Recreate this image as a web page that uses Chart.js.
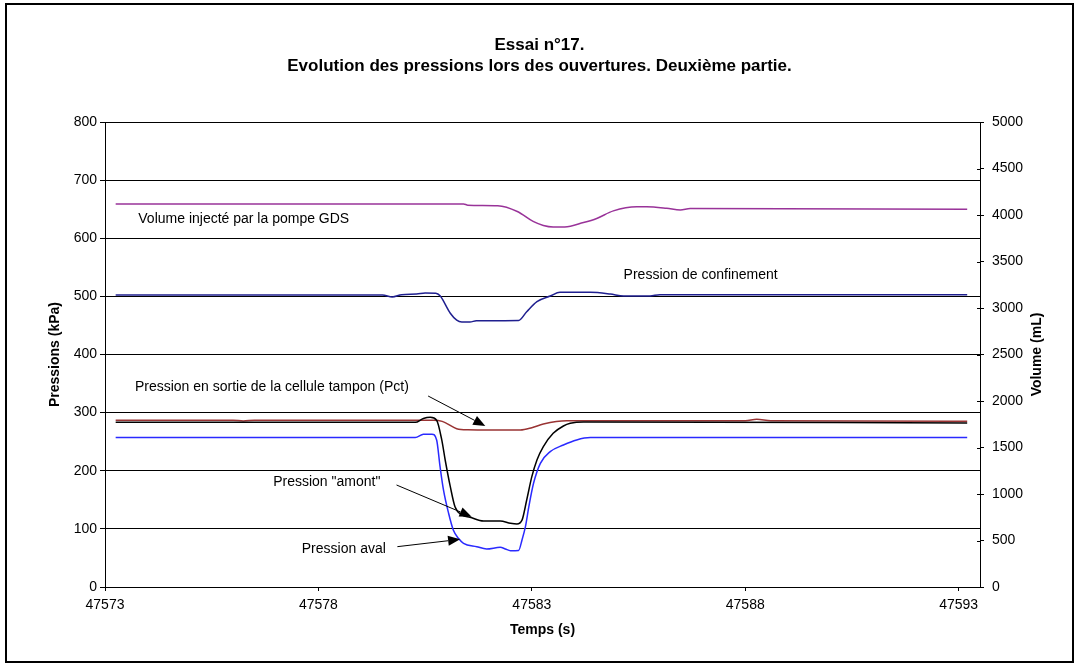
<!DOCTYPE html>
<html>
<head>
<meta charset="utf-8">
<script src="https://cdn.jsdelivr.net/npm/chart.js@4.4.1/dist/chart.umd.min.js"></script>
<style>
  html, body { margin: 0; padding: 0; background: #fff; }
  #wrap { width: 1079px; height: 668px; }
</style>
</head>
<body>
<div id="wrap"><canvas id="mychart"></canvas></div>
<script>
var timeTicks = [47573, 47578, 47583, 47588, 47593];

// Volume injecté (mL, right axis)
var tVolume = [47573.25, 47581.4, 47581.5, 47582.2, 47582.66, 47583.03, 47583.27, 47583.5, 47583.77,
   47584.21, 47584.52, 47584.91, 47585.46, 47585.69, 47586.16, 47586.48, 47586.71, 47593.2];
var volume = [4119, 4119, 4106, 4100, 4038, 3931, 3888, 3872, 3872,
   3919, 3963, 4044, 4088, 4088, 4072, 4054, 4069, 4063];

// Pression de confinement (kPa)
var tConfinement = [47573.25, 47579.5, 47579.73, 47579.95, 47580.3, 47580.5, 47580.75, 47580.85, 47581.09,
   47581.24, 47581.36, 47581.55, 47581.7, 47582.69, 47582.88, 47583.12, 47583.43, 47583.66, 47584.37,
   47584.84, 47585.15, 47585.77, 47586.0, 47593.2];
var confinement = [502.5, 502.5, 499, 503, 504, 505.8, 505.5, 501, 471,
   459, 456, 456, 458, 458.5, 473.7, 491, 500.6, 507, 507,
   504, 500.6, 500.8, 503, 503];

// Pression en sortie de la cellule tampon (Pct)
var tPct = [47573.25, 47576.0, 47576.24, 47576.5, 47580.7, 47580.9, 47581.24, 47581.5, 47582.73,
   47583.0, 47583.27, 47583.82, 47588.0, 47588.27, 47588.6, 47593.2];
var pct = [287, 287, 285.5, 287, 287, 285, 272.4, 270.5, 270,
   274, 280.4, 286, 286, 288.5, 286, 285];

// Pression "amont"
var tAmont = [47573.25, 47580.27, 47580.46, 47580.62, 47580.77, 47580.89, 47580.97, 47581.09, 47581.2,
   47581.36, 47581.55, 47581.87, 47582.26, 47582.5, 47582.65, 47582.77, 47582.88, 47583.0, 47583.12,
   47583.27, 47583.5, 47583.74, 47583.9, 47584.21, 47593.2];
var amont = [283.3, 283.3, 290, 292, 287, 253, 218.5, 172.6, 138,
   124, 120, 113.5, 113.5, 109.6, 108.4, 115, 149.7, 189.8, 218.5,
   241.5, 264.4, 277, 281.6, 284, 282];

// Pression aval
var tAval = [47573.25, 47580.27, 47580.46, 47580.66, 47580.77, 47580.85, 47580.93, 47581.05, 47581.16,
   47581.28, 47581.4, 47581.71, 47581.94, 47582.26, 47582.38, 47582.5, 47582.69, 47582.77, 47582.85,
   47582.93, 47583.04, 47583.2, 47583.43, 47583.74, 47584.05, 47584.37, 47593.2];
var aval = [257, 257, 262.7, 263, 253, 207, 167, 126.8, 98,
   83.8, 75.2, 69.4, 65.4, 68.3, 65.4, 62.5, 63, 80.9, 103.8,
   138.2, 178.4, 212.8, 232.8, 244.3, 253, 257, 257];

// annotations, anchored in data units (time, kPa)
var noteTexts = ["Volume injecté par la pompe GDS", "Pression de confinement",
   "Pression en sortie de la cellule tampon (Pct)", "Pression \"amont\"", "Pression aval"];
var noteAt = [[47573.78, 632.6], [47585.15, 536.8], [47573.70, 344.6], [47576.94, 180.6], [47577.61, 64.9]];
var arrowFrom = [[47580.57, 328.6], [47579.83, 175.5], [47579.85, 69.4]];
var arrowTo = [[47581.91, 277], [47581.59, 121], [47581.32, 82]];

function pts(ts, vs) {
   return ts.map(function (t, i) { return { x: t, y: vs[i] }; });
}

Chart.defaults.color = "#000000";
Chart.defaults.font.family = "'Liberation Sans', Arial, sans-serif";
Chart.defaults.font.size = 14;

var notesPlugin = {
   id: "notes",
   beforeDraw: function (chart) {
      var ctx = chart.ctx;
      ctx.save();
      ctx.strokeStyle = "#000";
      ctx.lineWidth = 2;
      ctx.strokeRect(6, 4, 1067, 658);
      ctx.restore();
   },
   afterDatasetsDraw: function (chart) {
      var ctx = chart.ctx, sx = chart.scales.x, sy = chart.scales.y, s2 = chart.scales.y2;
      ctx.save();
      ctx.fillStyle = "#000";
      ctx.strokeStyle = "#000";
      // right axis ticks cross the axis line
      ctx.lineWidth = 1;
      ctx.beginPath();
      s2.ticks.forEach(function (t) {
         var py = Math.round(s2.getPixelForValue(t.value)) + 0.5;
         ctx.moveTo(s2.left - 3, py);
         ctx.lineTo(s2.left, py);
      });
      ctx.stroke();

      ctx.font = "14px 'Liberation Sans', Arial, sans-serif";
      ctx.textAlign = "left";
      ctx.textBaseline = "middle";
      noteTexts.forEach(function (txt, i) {
         ctx.fillText(txt, sx.getPixelForValue(noteAt[i][0]), sy.getPixelForValue(noteAt[i][1]));
      });
      arrowFrom.forEach(function (a, i) {
         var x0 = sx.getPixelForValue(a[0]), y0 = sy.getPixelForValue(a[1]);
         var x1 = sx.getPixelForValue(arrowTo[i][0]), y1 = sy.getPixelForValue(arrowTo[i][1]);
         var ang = Math.atan2(y1 - y0, x1 - x0);
         var len = 12, half = 5;
         var bx = x1 - len * Math.cos(ang), by = y1 - len * Math.sin(ang);
         ctx.beginPath();
         ctx.moveTo(x0, y0);
         ctx.lineTo(bx, by);
         ctx.stroke();
         ctx.beginPath();
         ctx.moveTo(x1, y1);
         ctx.lineTo(bx + half * Math.sin(ang), by - half * Math.cos(ang));
         ctx.lineTo(bx - half * Math.sin(ang), by + half * Math.cos(ang));
         ctx.closePath();
         ctx.fill();
      });
      // right axis title reads bottom to top, like the left one
      var ca = chart.chartArea;
      ctx.translate(ca.right + 57, (ca.top + ca.bottom) / 2);
      ctx.rotate(-Math.PI / 2);
      ctx.font = "bold 14px 'Liberation Sans', Arial, sans-serif";
      ctx.textAlign = "center";
      ctx.fillText("Volume (mL)", 0, 0);
      ctx.restore();
   }
};

var line = function (label, data, color, axis) {
   return {
      label: label, data: data, yAxisID: axis,
      borderColor: color, backgroundColor: color,
      borderWidth: 1.5, pointRadius: 0, fill: false,
      cubicInterpolationMode: "monotone"
   };
};

var plain = function (v) { return String(v); };

var chart = new Chart(document.getElementById("mychart"), {
   type: "line",
   data: {
      datasets: [
         line("Pression \"amont\"", pts(tAmont, amont), "#000000", "y"),
         line("Pct", pts(tPct, pct), "#993333", "y"),
         line("Pression aval", pts(tAval, aval), "#2a2aff", "y"),
         line("Pression de confinement", pts(tConfinement, confinement), "#1f1f8f", "y"),
         line("Volume injecté", pts(tVolume, volume), "#993399", "y2")
      ]
   },
   options: {
      responsive: true,
      maintainAspectRatio: false,
      animation: false,
      layout: { padding: 0 },
      plugins: {
         legend: { display: false },
         tooltip: { enabled: false },
         title: {
            display: true,
            text: ["Essai n°17.", "Evolution des pressions lors des ouvertures. Deuxième partie."],
            font: { size: 17, weight: "bold", lineHeight: "21px" },
            padding: { top: 35, bottom: 45 }
         }
      },
      scales: {
         x: {
            type: "linear",
            min: 47573, max: 47593.5,
            afterBuildTicks: function (s) { s.ticks = timeTicks.map(function (v) { return { value: v }; }); },
            afterFit: function (s) { s.height = 81; },
            ticks: { padding: 6, maxRotation: 0, callback: plain },
            grid: { drawOnChartArea: false, tickLength: 4, color: "#000" },
            border: { color: "#000", width: 1 },
            title: { display: true, text: "Temps (s)", font: { size: 14, weight: "bold" }, padding: { top: 0, bottom: 29 } }
         },
         y: {
            position: "left",
            min: 0, max: 800,
            ticks: { stepSize: 100, padding: 3, callback: plain },
            afterFit: function (s) { s.width = 105; },
            grid: { color: "#000", tickLength: 5 },
            border: { color: "#000", width: 1 },
            title: { display: true, text: "Pressions (kPa)", font: { size: 14, weight: "bold" }, padding: { top: 47, bottom: 0 } }
         },
         y2: {
            position: "right",
            min: 0, max: 5000,
            ticks: { stepSize: 500, padding: 8, callback: plain },
            afterFit: function (s) { s.width = 99; },
            grid: { drawOnChartArea: false, color: "#000", tickLength: 4 },
            border: { color: "#000", width: 1 }
         }
      }
   },
   plugins: [notesPlugin]
});
</script>
</body>
</html>
